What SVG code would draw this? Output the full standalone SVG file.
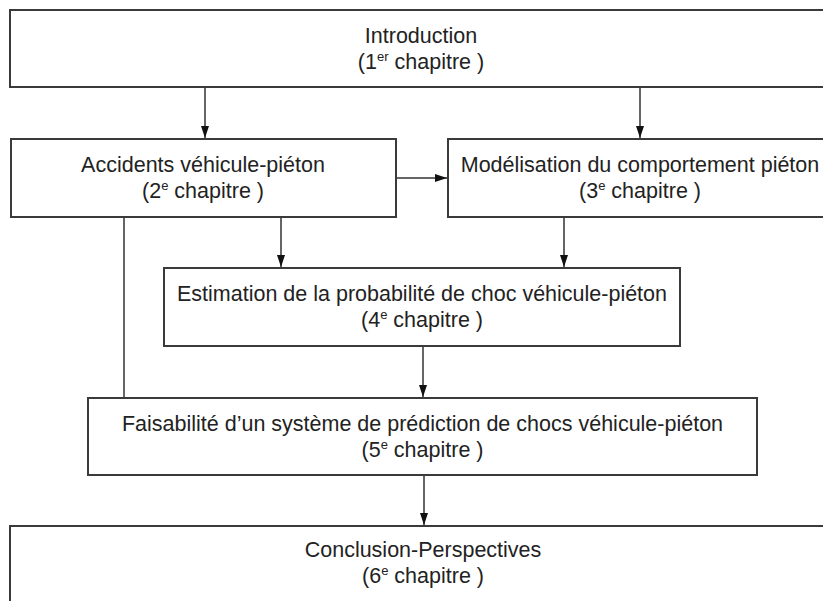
<svg xmlns="http://www.w3.org/2000/svg" width="823" height="601" viewBox="0 0 823 601">
  <defs>
    <marker id="arr" viewBox="0 0 12 8" refX="12" refY="4" markerWidth="12" markerHeight="8" markerUnits="userSpaceOnUse" orient="auto">
      <path d="M0,0 L12,4 L0,8 Z" fill="#111"/>
    </marker>
    <style>
      .box { fill: #ffffff; stroke: #3a3a3a; stroke-width: 2; }
      .t { font-family: "Liberation Sans", Arial, sans-serif; font-size: 21.5px; fill: #222; text-anchor: middle; }
      .sup { font-size: 13px; }
      .c { fill: none; stroke: #333; stroke-width: 1.5; }
      .ca { fill: none; stroke: #333; stroke-width: 1.5; marker-end: url(#arr); }
    </style>
  </defs>
  <rect width="823" height="601" fill="#ffffff"/>

  <g id="connectors">
    <line class="ca" x1="205" y1="88" x2="205" y2="138"/>
    <line class="ca" x1="640" y1="88" x2="640" y2="138"/>
    <line class="ca" x1="397" y1="178" x2="447" y2="178"/>
    <line class="ca" x1="281" y1="218" x2="281" y2="267"/>
    <line class="ca" x1="564" y1="218" x2="564" y2="267"/>
    <line class="c" x1="124" y1="218" x2="124" y2="397"/>
    <line class="ca" x1="423" y1="347" x2="423" y2="397"/>
    <line class="ca" x1="424" y1="476" x2="424" y2="525"/>
  </g>

  <g id="n1">
    <rect class="box" x="10" y="10" width="822" height="77"/>
    <text class="t" x="421" y="42.5">Introduction</text>
    <text class="t" x="421" y="68.5">(1<tspan class="sup" dy="-8">er</tspan><tspan dy="8"> chapitre )</tspan></text>
  </g>

  <g id="n2">
    <rect class="box" x="11" y="139" width="385" height="78"/>
    <text class="t" x="203" y="172">Accidents véhicule-piéton</text>
    <text class="t" x="203" y="198">(2<tspan class="sup" dy="-8">e</tspan><tspan dy="8"> chapitre )</tspan></text>
  </g>

  <g id="n3">
    <rect class="box" x="448" y="139" width="384" height="78"/>
    <text class="t" x="640" y="172">Modélisation du comportement piéton</text>
    <text class="t" x="640" y="198">(3<tspan class="sup" dy="-8">e</tspan><tspan dy="8"> chapitre )</tspan></text>
  </g>

  <g id="n4">
    <rect class="box" x="164" y="268" width="516" height="78"/>
    <text class="t" x="422" y="301">Estimation de la probabilité de choc véhicule-piéton</text>
    <text class="t" x="422" y="327">(4<tspan class="sup" dy="-8">e</tspan><tspan dy="8"> chapitre )</tspan></text>
  </g>

  <g id="n5">
    <rect class="box" x="88" y="398" width="669" height="77"/>
    <text class="t" x="422.5" y="430.5">Faisabilité d’un système de prédiction de chocs véhicule-piéton</text>
    <text class="t" x="422.5" y="456.5">(5<tspan class="sup" dy="-8">e</tspan><tspan dy="8"> chapitre )</tspan></text>
  </g>

  <g id="n6">
    <rect class="box" x="10" y="526" width="822" height="85"/>
    <text class="t" x="423" y="557">Conclusion-Perspectives</text>
    <text class="t" x="423" y="583">(6<tspan class="sup" dy="-8">e</tspan><tspan dy="8"> chapitre )</tspan></text>
  </g>
</svg>
